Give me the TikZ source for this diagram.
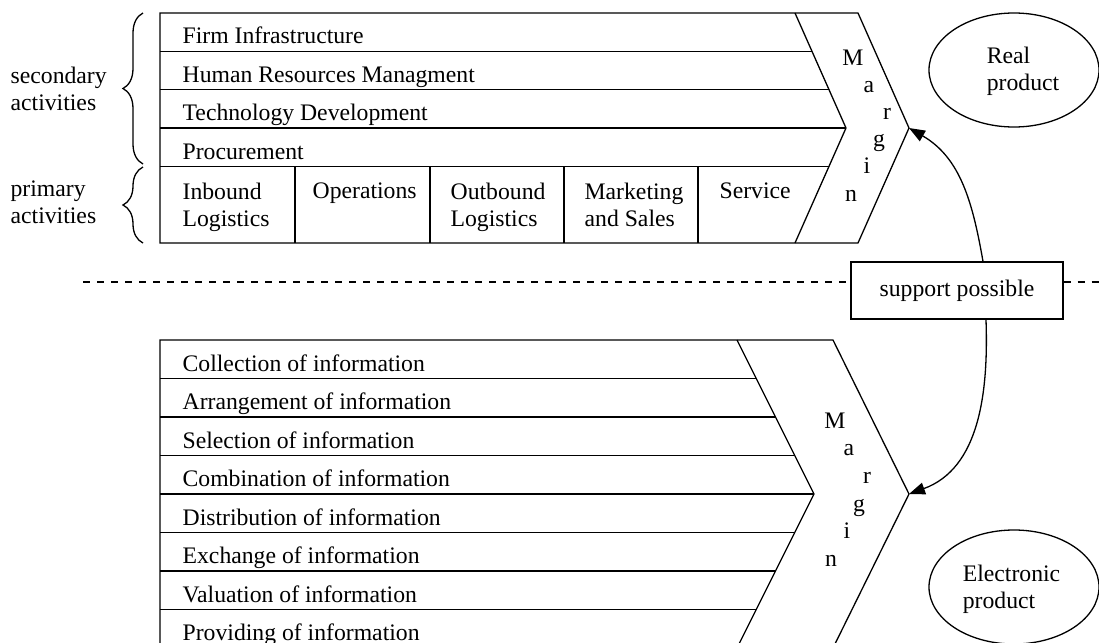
\documentclass[tikz,border=0pt]{standalone}
\usepackage{fontspec}
\setmainfont{Liberation Serif}
\usetikzlibrary{arrows.meta,shapes.geometric,decorations.pathreplacing}
\begin{document}
\begin{tikzpicture}[x=0.5pt,y=-0.5pt,line width=0.65pt,
  font=\fontsize{11.85}{13.5}\selectfont,
  rowlabel/.style={anchor=base west,inner sep=0pt},
  celllabel/.style={anchor=north west,inner sep=0pt,align=left},
  letter/.style={anchor=base,inner sep=0pt},
  sidelabel/.style={anchor=west,inner sep=0pt,align=left},
  product/.style={draw,ellipse,minimum width=85pt,minimum height=57pt,inner sep=0pt},
  producttext/.style={inner sep=0pt,align=left},
  supportbox/.style={draw,minimum width=106pt,minimum height=28.5pt,inner sep=0pt},
  divider/.style={dash pattern=on 3.5pt off 3.5pt},
  curlybrace/.style={decorate,decoration={brace,amplitude=10pt}},
  support/.style={-{Triangle[length=8pt,width=6pt]}}]
\useasboundingbox (0,0) rectangle (1099,643);
\clip (0,0) rectangle (1099,643);

% ---------- classic value chain ----------
\draw (160,13) -- (858,13) -- (909,128) -- (858,243) -- (160,243) -- cycle;
\draw (795,13) -- (846,128) -- (795,243);
\draw (160,51.3) -- (812,51.3);
\draw (160,89.6) -- (829,89.6);
\draw (160,128) -- (846,128);
\draw (160,166.3) -- (829,166.3);
\foreach \x in {295,430,564,698} \draw (\x,166.3) -- (\x,243);

\node[rowlabel] (firm) at (182,43.5) {Firm Infrastructure};
\node[rowlabel] (hrm)  at (182,82)   {Human Resources Managment};
\node[rowlabel] (tech) at (182,120.5) {Technology Development};
\node[rowlabel] (proc) at (182,159)  {Procurement};

\node[celllabel] (inbound)  at (182,182) {Inbound\\Logistics};
\node[celllabel] (ops)      at (312,182) {Operations};
\node[celllabel] (outbound) at (450,182) {Outbound\\Logistics};
\node[celllabel] (mkt)      at (584,182) {Marketing\\and Sales};
\node[celllabel] (service)  at (719,182) {Service};

\node[letter] (m1) at (853,65)  {M};
\node[letter] (a1) at (869,92)  {a};
\node[letter] (r1) at (887,119) {r};
\node[letter] (g1) at (879,146) {g};
\node[letter] (i1) at (867,173) {i};
\node[letter] (n1) at (851,201) {n};

% braces and group labels
\draw[curlybrace] (143,164) -- (143,13);
\draw[curlybrace] (143,243) -- (143,167);
\node[sidelabel] (secondary) at (10,89)  {secondary\\activities};
\node[sidelabel] (primary)   at (10,202) {primary\\activities};

% ---------- electronic value chain ----------
\draw (160,340) -- (833,340) -- (909,494) -- (833,648) -- (160,648) -- cycle;
\draw (737,340) -- (814,494) -- (737,648);
\draw (160,378.5) -- (756.25,378.5);
\draw (160,417)   -- (775.5,417);
\draw (160,455.5) -- (794.75,455.5);
\draw (160,494)   -- (814,494);
\draw (160,532.5) -- (794.75,532.5);
\draw (160,571)   -- (775.5,571);
\draw (160,609.5) -- (756.25,609.5);

\node[rowlabel] (collect)  at (182,371)   {Collection of information};
\node[rowlabel] (arrange)  at (182,409.5) {Arrangement of information};
\node[rowlabel] (select)   at (182,448)   {Selection of information};
\node[rowlabel] (combine)  at (182,486.5) {Combination of information};
\node[rowlabel] (distrib)  at (182,525)   {Distribution of information};
\node[rowlabel] (exchange) at (182,563.5) {Exchange of information};
\node[rowlabel] (value)    at (182,602)   {Valuation of information};
\node[rowlabel] (provide)  at (182,640.5) {Providing of information};

\node[letter] (m2) at (835,428)   {M};
\node[letter] (a2) at (849,455.7) {a};
\node[letter] (r2) at (867,483.4) {r};
\node[letter] (g2) at (859,511.1) {g};
\node[letter] (i2) at (847,538.8) {i};
\node[letter] (n2) at (831,566.5) {n};

% ---------- products ----------
\node[product] (real) at (1014,70) {};
\node[producttext] (realtext) at (1023,71.5) {Real\\product};
\node[product] (elec) at (1014,587) {};
\node[producttext] (electext) at (1011.5,589.5) {Electronic\\product};

% ---------- separator and support ----------
\node[supportbox] (sup) at (957,290.5) {support possible};
\coordinate (dashL) at (83,282);
\coordinate (dashR) at (1099,282);
\draw[divider] (dashL) -- (dashL -| sup.west);
\draw[divider] (dashL -| sup.east) -- (dashR);

\coordinate (topTip) at (909,128);
\coordinate (botTip) at (909,494);
\draw[support] ([xshift=13pt]sup.north) to[out=100,in=-30] (topTip);
\draw[support] ([xshift=14.5pt]sup.south) to[out=-88,in=20] (botTip);
\end{tikzpicture}
\end{document}
